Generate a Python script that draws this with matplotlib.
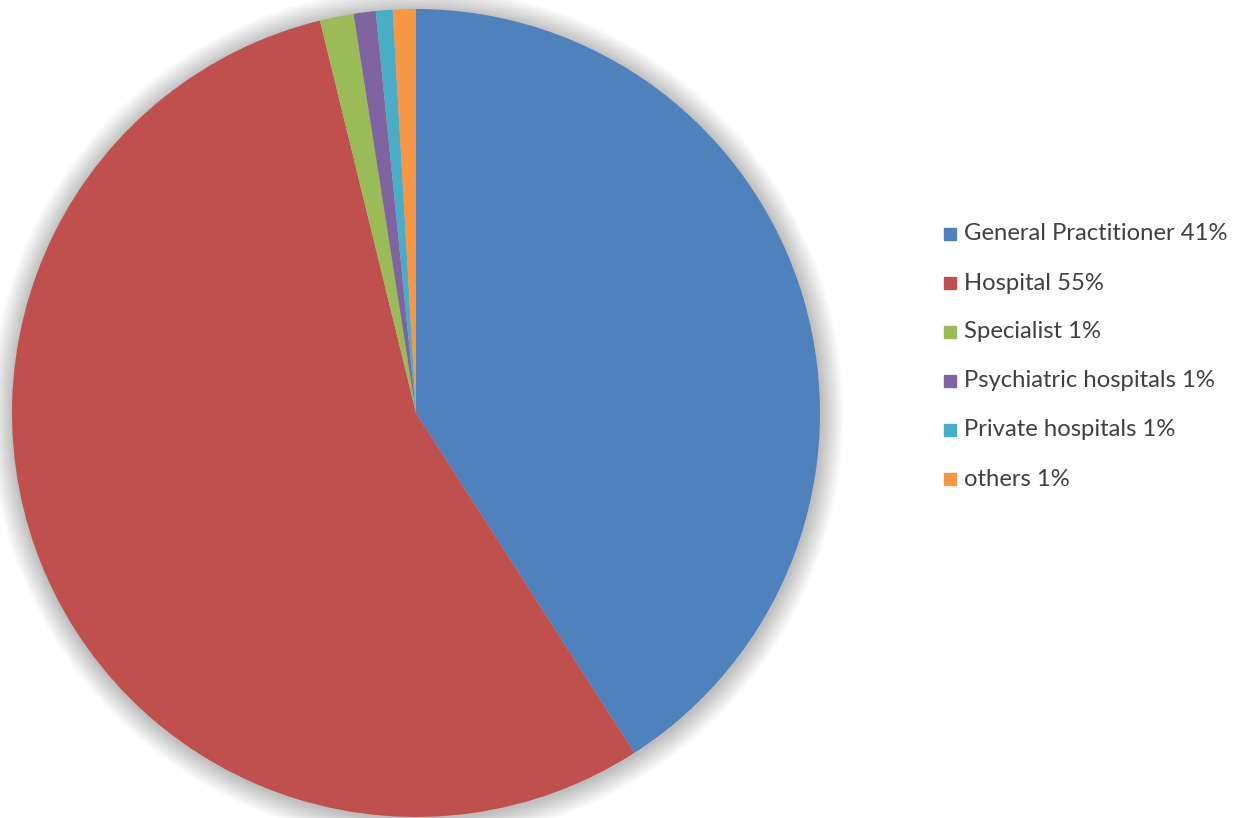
import numpy as np
import matplotlib.pyplot as plt
from matplotlib.patches import Circle, Rectangle

# Data
labels = ['General Practitioner 41%', 'Hospital 55%', 'Specialist 1%',
          'Psychiatric hospitals 1%', 'Private hospitals 1%', 'others 1%']
shares = [40.9, 55.25, 1.35, 0.88, 0.67, 0.92]
colors = ['#4F81BD', '#C0504D', '#9BBB59', '#8064A2', '#4BACC6', '#F79646']

W, H = 1244, 818
fig = plt.figure(figsize=(W / 100, H / 100), dpi=100)
fig.patch.set_facecolor('white')

# pie axes: centre (416, 413) px, radius ~404 px
cx, cy, r = 416, 413, 404
ax = fig.add_axes([(cx - r) / W, (H - cy - r) / H, 2 * r / W, 2 * r / H])
ax.set_xlim(-1, 1)
ax.set_ylim(-1, 1)
ax.set_aspect('equal')
ax.axis('off')

# soft shadow round the pie
for k in range(16):
    rr = 1.0 + 0.0035 * (16 - k)
    ax.add_patch(Circle((0.002, -0.004), rr, color='black', alpha=0.016,
                        lw=0, clip_on=False, zorder=0))

ax.pie(shares, colors=colors, startangle=90, counterclock=False,
       radius=1.0, wedgeprops=dict(linewidth=0))
ax.set_xlim(-1, 1)
ax.set_ylim(-1, 1)

# legend drawn by hand
y0, dy = 234, 49
for i, (lab, col) in enumerate(zip(labels, colors)):
    y = y0 + i * dy
    fig.patches.append(Rectangle((944 / W, (H - y - 6) / H), 12 / W, 12 / H,
                                 transform=fig.transFigure, color=col,
                                 figure=fig))
    fig.text(964 / W, (H - y) / H, lab, fontsize=17.2, family='Lato',
             color='#404040', va='center', ha='left')

fig.savefig('out.png', dpi=100)
